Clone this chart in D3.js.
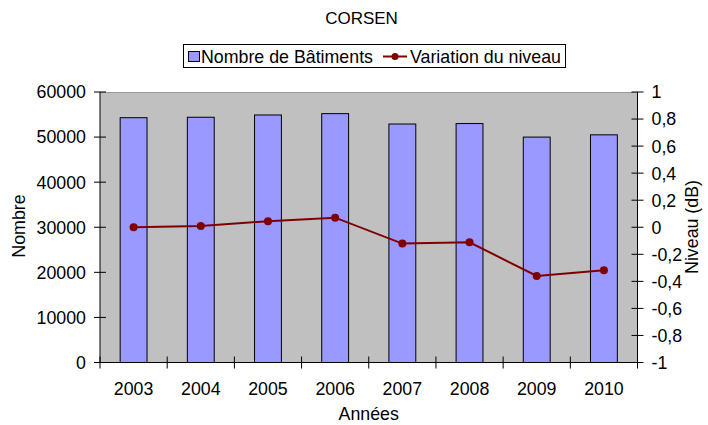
<!DOCTYPE html>
<html><head><meta charset="utf-8">
<script src="https://cdn.jsdelivr.net/npm/d3@7"></script>
<style>body{margin:0;background:#fff}svg{display:block}text{font-family:"Liberation Sans",Arial,sans-serif;fill:#000}</style>
</head><body>
<script>
const years = ["2003","2004","2005","2006","2007","2008","2009","2010"];
const buildings = [54300, 54400, 54900, 55200, 52900, 53000, 50000, 50500];
const levels = [0.0, 0.01, 0.044, 0.071, -0.121, -0.111, -0.36, -0.318];
const leftTicks = [0,10000,20000,30000,40000,50000,60000];
const rightTicks = [-1,-0.8,-0.6,-0.4,-0.2,0,0.2,0.4,0.6,0.8,1];

const W=708,H=425, L=100, R=637.5, T=92, B=362.5, FS=17.8;
const svg = d3.select("body").append("svg").attr("width",W).attr("height",H);

const x = d3.scaleBand().domain(years).range([L,R]).paddingInner(0.6).paddingOuter(0.3);
const xc = d3.scaleBand().domain(years).range([L,R]);
const yL = d3.scaleLinear().domain([0,60000]).range([B,T]);
const yR = d3.scaleLinear().domain([-1,1]).range([B,T]);

svg.append("rect").attr("x",L).attr("y",T).attr("width",R-L).attr("height",B-T).attr("fill","#c0c0c0");
svg.append("line").attr("x1",L).attr("x2",R).attr("y1",T+0.5).attr("y2",T+0.5).attr("stroke","#999").attr("stroke-width",1);

svg.selectAll("rect.bar").data(years).enter().append("rect").attr("class","bar")
  .attr("x",d=>x(d)).attr("width",x.bandwidth())
  .attr("y",(d,i)=>yL(buildings[i])).attr("height",(d,i)=>B-yL(buildings[i]))
  .attr("fill","#9999ff").attr("stroke","#000").attr("stroke-width",1);

// left axis
const gl = svg.append("g").attr("transform",`translate(${L},0)`);
gl.append("line").attr("y1",T).attr("y2",B).attr("stroke","#000");
leftTicks.forEach(v=>{
  gl.append("line").attr("x1",-6).attr("x2",6).attr("y1",yL(v)).attr("y2",yL(v)).attr("stroke","#000");
  gl.append("text").attr("x",-14).attr("y",yL(v)).attr("dy","0.36em").attr("text-anchor","end").attr("font-size",FS).text(v);
});
// right axis
const gr = svg.append("g").attr("transform",`translate(${R},0)`);
gr.append("line").attr("y1",T).attr("y2",B).attr("stroke","#000");
rightTicks.forEach(v=>{
  gr.append("line").attr("x1",-6).attr("x2",6).attr("y1",yR(v)).attr("y2",yR(v)).attr("stroke","#000");
  gr.append("text").attr("x",14).attr("y",yR(v)).attr("dy","0.36em").attr("font-size",FS)
    .text(String(Math.round(v*10)/10).replace(".",","));
});
// bottom axis
const gb = svg.append("g");
gb.append("line").attr("x1",L).attr("x2",R).attr("y1",B).attr("y2",B).attr("stroke","#000");
years.forEach(d=>{
  gb.append("line").attr("x1",xc(d)).attr("x2",xc(d)).attr("y1",B-6).attr("y2",B+6).attr("stroke","#000");
  gb.append("text").attr("x",xc(d)+xc.bandwidth()/2).attr("y",B+32).attr("text-anchor","middle").attr("font-size",FS).text(d);
});
gb.append("line").attr("x1",R).attr("x2",R).attr("y1",B-6).attr("y2",B+6).attr("stroke","#000");

// line
const pts = years.map((d,i)=>[xc(d)+xc.bandwidth()/2, yR(levels[i])]);
svg.append("path").attr("d",d3.line()(pts)).attr("fill","none").attr("stroke","#800000").attr("stroke-width",2);
svg.selectAll("circle.pt").data(pts).enter().append("circle").attr("class","pt")
  .attr("cx",d=>d[0]).attr("cy",d=>d[1]).attr("r",4).attr("fill","#800000");

// titles
svg.append("text").attr("x",361.5).attr("y",24).attr("text-anchor","middle").attr("font-size",17).text("CORSEN");
svg.append("text").attr("x",(L+R)/2).attr("y",420).attr("text-anchor","middle").attr("font-size",FS).text("Années");
svg.append("text").attr("transform",`translate(25,226) rotate(-90)`).attr("text-anchor","middle").attr("font-size",FS).text("Nombre");
svg.append("text").attr("transform",`translate(698,227) rotate(-90)`).attr("text-anchor","middle").attr("font-size",FS).text("Niveau (dB)");

// legend
const lg = svg.append("g");
lg.append("rect").attr("x",183.5).attr("y",44.5).attr("width",382).attr("height",23).attr("fill","#fff").attr("stroke","#000");
lg.append("rect").attr("x",188.5).attr("y",51.5).attr("width",11).attr("height",10).attr("fill","#9999ff").attr("stroke","#000");
lg.append("text").attr("x",201).attr("y",62.5).attr("font-size",FS).text("Nombre de Bâtiments");
lg.append("line").attr("x1",383).attr("x2",407).attr("y1",56.5).attr("y2",56.5).attr("stroke","#800000").attr("stroke-width",2);
lg.append("circle").attr("cx",395).attr("cy",56.5).attr("r",3.5).attr("fill","#800000");
lg.append("text").attr("x",410).attr("y",62.5).attr("font-size",FS).text("Variation du niveau");
</script>
</body></html>
